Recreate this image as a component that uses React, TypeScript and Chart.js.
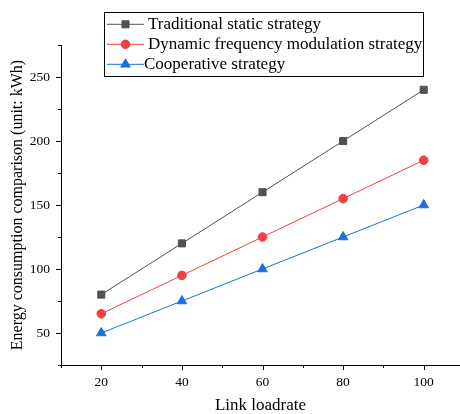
import React, { useEffect, useRef } from "react";
import { Chart, registerables } from "chart.js";
import { drawPoint } from "chart.js/helpers";

Chart.register(...registerables);

const loadRates = [20, 40, 60, 80, 100];
const traditional = [80, 120, 160, 200, 240];
const dynamicFM = [65, 95, 125, 155, 185];
const cooperative = [50, 75, 100, 125, 150];
const seriesNames = [
  "Traditional static strategy",
  "Dynamic frequency modulation strategy",
  "Cooperative strategy",
];
const xMajorTicks = [20, 40, 60, 80, 100];
const xMinorTicks = [10, 30, 50, 70, 90];
const yMajorTicks = [50, 100, 150, 200, 250];
const yMinorTicks = [25, 75, 125, 175, 225, 275];
const xTitle = "Link loadrate";
const yTitle = "Energy consumption comparison (unit: kWh)";

const SERIF = "'Liberation Serif', 'Times New Roman', serif";
const colors = ["#515151", "#F14040", "#1A6FDF"];
const styles = ["rect", "circle", "triangle"];
const radii = [5, 4.3, 5.5];

const axisTicksPlugin = {
  id: "axisTicks",
  afterDraw(chart: any) {
    const ctx = chart.ctx;
    const xs = chart.scales.x;
    const ys = chart.scales.y;
    const { left, bottom } = chart.chartArea;
    ctx.save();
    ctx.strokeStyle = "#000";
    ctx.lineWidth = 1;
    ctx.beginPath();
    for (const v of xMajorTicks) {
      const p = Math.round(xs.getPixelForValue(v)) + 0.5;
      ctx.moveTo(p, bottom);
      ctx.lineTo(p, bottom + 5);
    }
    for (const v of xMinorTicks) {
      const p = Math.round(xs.getPixelForValue(v)) + 0.5;
      ctx.moveTo(p, bottom);
      ctx.lineTo(p, bottom + 3);
    }
    for (const v of yMajorTicks) {
      const p = Math.round(ys.getPixelForValue(v)) + 0.5;
      ctx.moveTo(left, p);
      ctx.lineTo(left - 5, p);
    }
    for (const v of yMinorTicks) {
      const p = Math.round(ys.getPixelForValue(v)) + 0.5;
      ctx.moveTo(left, p);
      ctx.lineTo(left - 3, p);
    }
    ctx.stroke();
    ctx.restore();
  },
};

const legendPlugin = {
  id: "boxLegend",
  afterDraw(chart: any) {
    const ctx = chart.ctx;
    ctx.save();
    ctx.strokeStyle = "#000";
    ctx.lineWidth = 1;
    ctx.strokeRect(104.5, 12.5, 319, 64);
    const rows = [24.3, 44.3, 64.3];
    const textX = [148, 148, 144];
    chart.data.datasets.forEach((ds: any, i: number) => {
      const y = rows[i];
      ctx.strokeStyle = ds.borderColor;
      ctx.lineWidth = 1;
      ctx.beginPath();
      ctx.moveTo(107, y);
      ctx.lineTo(144, y);
      ctx.stroke();
      ctx.fillStyle = ds.pointBackgroundColor;
      ctx.strokeStyle = ds.pointBorderColor;
      drawPoint(ctx, { pointStyle: ds.pointStyle, radius: ds.pointRadius, rotation: 0, borderWidth: 1 }, 125.5, y);
      ctx.fillStyle = "#000";
      ctx.font = `17px ${SERIF}`;
      ctx.textBaseline = "middle";
      ctx.textAlign = "left";
      ctx.fillText(ds.label, textX[i], y);
    });
    ctx.restore();
  },
};

export default function App() {
  const ref = useRef<HTMLCanvasElement | null>(null);
  useEffect(() => {
    if (!ref.current) return;
    const seriesValues = [traditional, dynamicFM, cooperative];
    const chart = new Chart(ref.current, {
      type: "line",
      data: {
        datasets: seriesValues.map((vals, i) => ({
          label: seriesNames[i],
          data: loadRates.map((x, j) => ({ x, y: vals[j] })),
          borderColor: colors[i],
          backgroundColor: colors[i],
          pointBackgroundColor: colors[i],
          pointBorderColor: colors[i],
          pointStyle: styles[i] as any,
          pointRadius: radii[i],
          pointBorderWidth: 1,
          borderWidth: 1,
          fill: false,
          tension: 0,
        })),
      },
      options: {
        animation: false,
        responsive: false,
        devicePixelRatio: 1,
        layout: { autoPadding: false, padding: { top: 45, left: 0, right: 0, bottom: 0 } },
        plugins: {
          legend: { display: false },
          tooltip: { enabled: false },
        },
        scales: {
          x: {
            type: "linear",
            min: 10,
            max: 109,
            afterFit: (s: any) => {
              s.height = 49;
              s.paddingLeft = 0;
              s.paddingRight = 0;
            },
            afterBuildTicks: (s: any) => {
              s.ticks = xMajorTicks.map((v) => ({ value: v }));
            },
            grid: { display: true, drawOnChartArea: false, drawTicks: false },
            border: { display: true, color: "#000", width: 1 },
            ticks: {
              color: "#000",
              font: { family: SERIF, size: 13.5 },
              padding: 9,
              maxRotation: 0,
              autoSkip: false,
            },
            title: {
              display: true,
              text: xTitle,
              color: "#000",
              font: { family: SERIF, size: 17, lineHeight: 1 },
              padding: { top: 0, bottom: 0 },
            },
          },
          y: {
            type: "linear",
            min: 25,
            max: 275,
            afterFit: (s: any) => {
              s.width = 61;
              s.paddingTop = 0;
              s.paddingBottom = 0;
            },
            afterBuildTicks: (s: any) => {
              s.ticks = yMajorTicks.map((v) => ({ value: v }));
            },
            grid: { display: true, drawOnChartArea: false, drawTicks: false },
            border: { display: true, color: "#000", width: 1 },
            ticks: {
              color: "#000",
              font: { family: SERIF, size: 13.5 },
              padding: 11,
              autoSkip: false,
            },
            title: {
              display: true,
              text: yTitle,
              color: "#000",
              font: { family: SERIF, size: 16, lineHeight: 1 },
              padding: { top: 9.5, bottom: 0 },
            },
          },
        },
      },
      plugins: [axisTicksPlugin, legendPlugin],
    });
    return () => chart.destroy();
  }, []);
  return (
    <div style={{ position: "absolute", left: 0, top: 0, width: 460, height: 414 }}>
      <canvas ref={ref} width={460} height={414} />
    </div>
  );
}
